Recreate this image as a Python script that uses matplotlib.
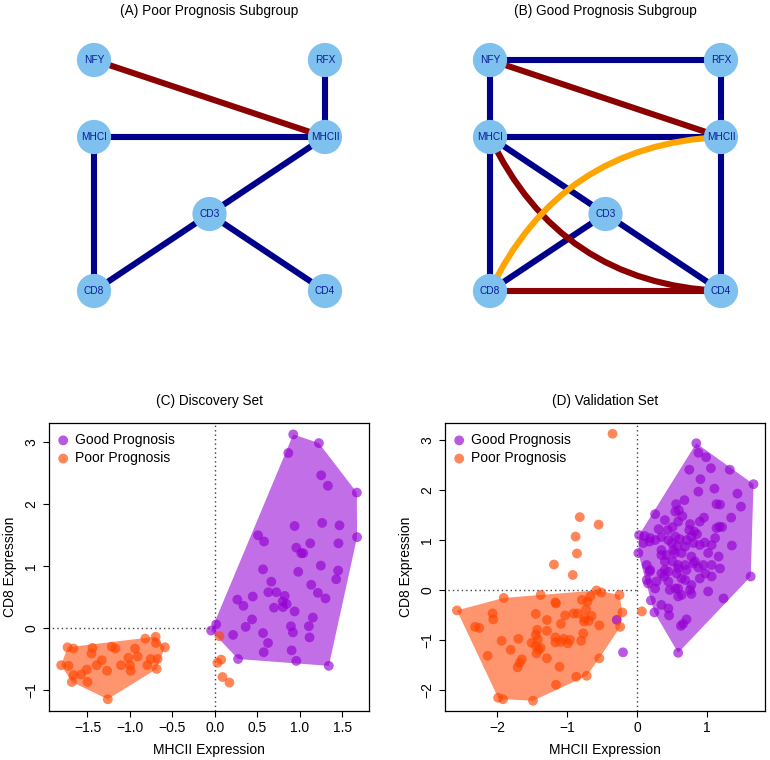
import numpy as np
import matplotlib
matplotlib.use("Agg")
import matplotlib.pyplot as plt
from matplotlib.patches import Circle, Polygon, PathPatch
from matplotlib.path import Path

plt.rcParams['font.family'] = ['Liberation Sans', 'DejaVu Sans']

# --- reseaux (A) / (B) ---
NODE_NAMES = ["NFY", "RFX", "MHCI", "MHCII", "CD3", "CD8", "CD4"]
NODE_X = [0, 1, 0, 1, 0.5, 0, 1]
NODE_Y = [1, 1, 2 / 3, 2 / 3, 1 / 3, 0, 0]

EDGES_POOR = [("RFX", "MHCII", "pos"), ("MHCI", "MHCII", "pos"), ("MHCI", "CD8", "pos"),
              ("MHCII", "CD3", "pos"), ("CD3", "CD8", "pos"), ("CD3", "CD4", "pos"),
              ("NFY", "MHCII", "neg")]
EDGES_GOOD = [("NFY", "RFX", "pos"), ("NFY", "MHCI", "pos"), ("RFX", "MHCII", "pos"),
              ("MHCI", "MHCII", "pos"), ("MHCI", "CD8", "pos"), ("MHCII", "CD4", "pos"),
              ("MHCI", "CD3", "pos"), ("CD3", "CD4", "pos"), ("CD3", "CD8", "pos"),
              ("NFY", "MHCII", "neg"), ("CD8", "CD4", "neg"), ("MHCI", "CD4", "neg"),
              ("CD8", "MHCII", "diff")]

# --- nuages (C) / (D) : MHCII (x), CD8 (y) ---
C_GOOD_X = [0.924, 1.226, 0.866, 1.253, 1.332, 1.673, 0.940, 1.265, 1.469, 0.509, 0.580, 1.124,
            1.457, 1.676, 0.960, 1.018, 1.042, 1.249, 0.568, 0.983, 1.453, 1.430, 0.666, 1.136,
            0.631, 0.725, 0.823, 1.214, 0.266, 0.447, 0.799, 0.846, 0.803, 0.337, 0.697, 1.304,
            0.940, 0.439, 1.155, 0.016, 0.364, 0.897, 1.108, -0.043, 0.215, 0.568, 0.920, 1.116,
            0.627, 0.905, 0.576, 0.274, 0.960, 1.343]
C_GOOD_Y = [3.13, 2.99, 2.83, 2.47, 2.30, 2.19, 1.65, 1.70, 1.66, 1.50, 1.40, 1.37,
            1.37, 1.47, 1.30, 1.21, 1.21, 1.01, 0.95, 0.91, 0.93, 0.79, 0.75, 0.70,
            0.58, 0.58, 0.52, 0.57, 0.46, 0.51, 0.43, 0.39, 0.34, 0.36, 0.33, 0.48,
            0.27, 0.14, 0.17, 0.06, 0.02, 0.03, 0.03, -0.04, -0.11, -0.08, -0.07, -0.15,
            -0.24, -0.36, -0.39, -0.50, -0.53, -0.61]
C_POOR_X = [0.055, 0.031, 0.074, 0.090, 0.172, -1.810, -1.723, -1.735, -1.665, -1.684, -1.665,
            -1.575, -1.500, -1.508, -1.441, -1.453, -1.391, -1.332, -1.269, -1.261, -1.214, -1.171,
            -1.105, -1.018, -0.999, -0.991, -0.940, -0.909, -0.819, -0.795, -0.756, -0.697, -0.693,
            -0.685, -0.674, -0.588]
C_POOR_Y = [-0.13, -0.56, -0.51, -0.79, -0.88, -0.60, -0.61, -0.31, -0.33, -0.87, -0.76,
            -0.75, -0.87, -0.67, -0.32, -0.41, -0.60, -0.52, -0.69, -1.15, -0.30, -0.33,
            -0.60, -0.48, -0.60, -0.69, -0.33, -0.46, -0.17, -0.60, -0.50, -0.14, -0.24,
            -0.66, -0.50, -0.31]

D_GOOD_X = [0.85, 0.88, 0.99, 0.75, 1.06, 1.33, 1.67, 0.91, 1.11, 0.88, 1.44, 0.68, 0.56, 1.14,
            1.19, 1.49, 0.60, 0.55, 0.26, 0.65, 0.96, 1.35, 0.40, 0.59, 0.90, 0.76,
            1.18, 1.14, 1.22, 0.31, 0.44, 0.51, 0.75, 0.82, 0.03, 0.11, 0.19, 0.26, 0.35, 0.45,
            0.55, 0.61, 0.71, 0.78, 0.86, 0.97, 1.12, 1.36, 0.09, 0.50, 0.58, 0.69, 0.81, 0.90,
            1.07, 0.18,
            0.02, 0.35, 0.35, 0.52, 0.42, 0.54, 0.64, 0.78, 1.02, 1.17, 0.14, 0.40, 0.51, 0.59,
            0.69, 0.83, 0.95, 1.07, 0.81,
            0.19, 0.18, 0.40, 0.35, 0.45, 0.57, 0.59, 0.71, 0.88, 1.19, 0.98, 1.07, 0.14, 0.28,
            0.39, 0.45, 0.64, 0.69, 0.90, 1.63, 0.16, 0.26, 0.47, 0.59, 0.78, 0.55, 0.76,
            1.02, 0.64, 0.59, 0.78, 1.24, 0.20, 0.35, 0.45, 0.25, 0.46, 0.71, 0.66, 0.63, 0.59,
            -0.20, -0.29]
D_GOOD_Y = [2.94, 2.75, 2.66, 2.41, 2.44, 2.41, 2.12, 2.22, 2.03, 1.97, 1.93, 1.80, 1.72, 1.72,
            1.71, 1.67, 1.60, 1.57, 1.52, 1.48, 1.45, 1.45, 1.40, 1.37, 1.37, 1.32,
            1.27, 1.24, 1.26, 1.22, 1.20, 1.26, 1.20, 1.17, 1.10, 1.08, 1.04, 1.00, 1.06, 1.00,
            1.07, 1.02, 1.00, 1.07, 1.12, 0.95, 1.04, 0.89, 0.94, 0.94, 0.88, 0.87, 0.94, 0.90,
            0.90, 0.97,
            0.74, 0.80, 0.70, 0.80, 0.70, 0.74, 0.74, 0.67, 0.74, 0.67, 0.50, 0.57, 0.57, 0.50,
            0.50, 0.57, 0.50, 0.50, 0.53,
            0.40, 0.37, 0.40, 0.33, 0.37, 0.33, 0.43, 0.40, 0.45, 0.43, 0.33, 0.27, 0.20, 0.17,
            0.27, 0.17, 0.23, 0.20, 0.23, 0.27, 0.13, 0.03, 0.00, 0.03, 0.10, 0.03, 0.00,
            -0.03, -0.10, -0.13, -0.08, -0.17, -0.21, -0.30, -0.37, -0.45, -0.51, -0.59, -0.68,
            -0.72, -1.26,
            -1.25, -0.60]
D_POOR_X = [-0.35, -0.82, -0.55, -0.88, -0.86, -1.19, -0.92, 0.07,
            -2.58, -1.91, -1.38, -1.17, -0.58, -0.51, -0.67, -0.79, -0.71, -0.25, -0.21,
            -2.07, -2.06, -1.45, -1.03, -0.85, -0.73, -0.75, -0.69, -0.65, -0.54, -1.29,
            -2.32, -2.26, -1.29, -1.09, -1.43, -1.70, -1.94, -1.45, -1.42, -1.17, -1.05, -0.96,
            -0.99, -1.09, -1.17, -0.77, -0.80, -1.51, -1.45, -1.38, -1.44, -1.41, -1.29, -1.81,
            -2.14, -1.65, -1.68, -1.71, -1.11, -0.54, -0.87, -0.72, -1.16, -1.99, -1.92, -1.49,
            -0.24, -0.76, -0.91, -1.16]
D_POOR_Y = [3.13, 1.46, 1.31, 1.07, 0.73, 0.51, 0.30, -0.43,
            -0.41, -0.16, -0.10, -0.25, -0.01, -0.05, -0.13, -0.20, -0.23, -0.10, -0.45,
            -0.47, -0.59, -0.48, -0.51, -0.47, -0.39, -0.57, -0.62, -0.52, -0.71, -0.60,
            -0.74, -0.76, -0.82, -0.68, -0.80, -0.98, -1.02, -0.90, -0.99, -0.95, -0.98, -1.00,
            -1.07, -1.04, -1.05, -0.87, -1.02, -1.06, -1.12, -1.16, -1.27, -1.20, -1.37, -1.20,
            -1.32, -1.39, -1.46, -1.55, -1.54, -1.37, -1.74, -1.72, -1.90, -2.16, -2.19, -2.22,
            -0.74, -0.63, -0.47, -0.27]

EDGE_COLORS = {"pos": "#00008B", "neg": "#8B0000", "diff": "#FFA500"}
CURVED = {("MHCI", "CD4"): 0.3, ("CD8", "MHCII"): -0.3}
GOOD_COL = "#9400D3"
POOR_COL = "#FF4500"

W, H = 770, 760
fig = plt.figure(figsize=(W / 100, H / 100), dpi=100)


def px_axes(x0, y0, x1, y1):
    # rectangle en pixels (origine en haut a gauche)
    return fig.add_axes([x0 / W, 1 - y1 / H, (x1 - x0) / W, (y1 - y0) / H])


def network(x0, x1, ox, edges):
    sc, oy = 231.0, 291.0
    ax = px_axes(x0, 25, x1, 330)
    ax.set_xlim((x0 - ox) / sc, (x1 - ox) / sc)
    ax.set_ylim((oy - 330) / sc, (oy - 25) / sc)
    ax.axis("off")
    pos = {n: (x, y) for n, x, y in zip(NODE_NAMES, NODE_X, NODE_Y)}
    for a, b, kind in edges:
        (xa, ya), (xb, yb) = pos[a], pos[b]
        k = CURVED.get((a, b), 0.0)
        if k:
            dx, dy = xb - xa, yb - ya
            cx, cy = (xa + xb) / 2 + k * dy, (ya + yb) / 2 - k * dx
            path = Path([(xa, ya), (cx, cy), (xb, yb)], [Path.MOVETO, Path.CURVE3, Path.CURVE3])
            ax.add_patch(PathPatch(path, fill=False, lw=4.4, ec=EDGE_COLORS[kind],
                                   capstyle="butt", zorder=1))
        else:
            ax.plot([xa, xb], [ya, yb], color=EDGE_COLORS[kind], lw=4.4,
                    solid_capstyle="butt", zorder=1)
    for n, (x, y) in pos.items():
        ax.add_patch(Circle((x, y), 0.074, fc="#7EC0EE", ec="none", zorder=3))
        ax.text(x, y, n, ha="center", va="center", fontsize=7.3, color="#0A1E96", zorder=4)
    return ax


def hull(xs, ys):
    pts = sorted(set(zip(xs, ys)))
    def cross(o, a, b):
        return (a[0] - o[0]) * (b[1] - o[1]) - (a[1] - o[1]) * (b[0] - o[0])
    lower, upper = [], []
    for p in pts:
        while len(lower) >= 2 and cross(lower[-2], lower[-1], p) <= 0:
            lower.pop()
        lower.append(p)
    for p in reversed(pts):
        while len(upper) >= 2 and cross(upper[-2], upper[-1], p) <= 0:
            upper.pop()
        upper.append(p)
    return lower[:-1] + upper[:-1]


def scatter_panel(x0, gx, gy, px_, py_, xlim, ylim, xticks, yticks):
    ax = px_axes(x0, 423.3, x0 + 320, 710.7)
    gx, gy, px_, py_ = map(np.asarray, (gx, gy, px_, py_))
    # enveloppes convexes : points du bon cote du seuil
    mg = gx > -0.1
    mp = (px_ < 0) & (py_ < 0)
    ax.add_patch(Polygon(hull(gx[mg], gy[mg]), closed=True, fc=GOOD_COL, ec="none",
                         alpha=0.57, zorder=1))
    ax.add_patch(Polygon(hull(px_[mp], py_[mp]), closed=True, fc=POOR_COL, ec="none",
                         alpha=0.57, zorder=1))
    ax.axvline(0, color="0.25", lw=1.0, ls=(0, (1, 2.2)), zorder=0)
    ax.hlines(0, -10, 0, color="0.25", lw=1.0, ls=(0, (1, 2.2)), zorder=0)
    sg = ax.scatter(gx, gy, s=50, c=GOOD_COL, alpha=0.65, edgecolors="none", zorder=2,
                    label="Good Prognosis")
    sp = ax.scatter(px_, py_, s=50, c=POOR_COL, alpha=0.65, edgecolors="none", zorder=2,
                    label="Poor Prognosis")
    ax.set_xlim(*xlim)
    ax.set_ylim(*ylim)
    ax.set_xticks(xticks)
    ax.set_yticks(yticks)
    ax.tick_params(direction="out", length=4.5, width=0.8, labelsize=10, pad=3)
    ax.tick_params(axis="y", pad=3.5)
    for t in ax.get_yticklabels():
        t.set_rotation(90)
        t.set_va("center")
    for s in ax.spines.values():
        s.set_linewidth(0.9)
    ax.set_xlabel("MHCII Expression", fontsize=10, labelpad=6)
    ax.set_ylabel("CD8 Expression", fontsize=10, labelpad=5)
    ax.legend(handles=[sg, sp], loc="upper left", frameon=False, fontsize=10,
              handlelength=0.6, handletextpad=0.55, borderaxespad=0.25, labelspacing=0.3,
              borderpad=0.45, scatterpoints=1)
    return ax


network(0, 385, 94, EDGES_POOR)
network(385, 770, 490, EDGES_GOOD)
fig.text(209 / W, 1 - 11 / H, "(A) Poor Prognosis Subgroup", ha="center", va="center", fontsize=9.8)
fig.text(605 / W, 1 - 11 / H, "(B) Good Prognosis Subgroup", ha="center", va="center", fontsize=9.8)

scatter_panel(49.3, C_GOOD_X, C_GOOD_Y, C_POOR_X, C_POOR_Y, (-1.95, 1.82), (-1.335, 3.31),
              [-1.5, -1.0, -0.5, 0.0, 0.5, 1.0, 1.5], [-1, 0, 1, 2, 3])
scatter_panel(445.3, D_GOOD_X, D_GOOD_Y, D_POOR_X, D_POOR_Y, (-2.747, 1.839), (-2.42, 3.34),
              [-2, -1, 0, 1], [-2, -1, 0, 1, 2, 3])
fig.text(209 / W, 1 - 401 / H, "(C) Discovery Set", ha="center", va="center", fontsize=9.8)
fig.text(605 / W, 1 - 401 / H, "(D) Validation Set", ha="center", va="center", fontsize=9.8)

fig.savefig("out.png", dpi=100)
